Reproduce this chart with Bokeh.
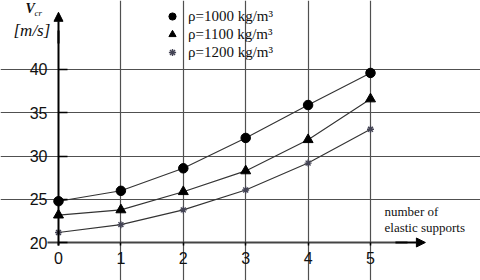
from bokeh.plotting import figure
from bokeh.models import (Range1d, LinearAxis, FixedTicker, Grid, Arrow, NormalHead,
                          Label, Legend, LegendItem)
from bokeh.embed import file_html
from bokeh.resources import INLINE

# ---- data ----
supports = [0, 1, 2, 3, 4, 5]
v_1000 = [24.8, 26.0, 28.6, 32.1, 35.9, 39.6]
v_1100 = [23.2, 23.8, 25.9, 28.3, 31.9, 36.6]
v_1200 = [21.2, 22.1, 23.8, 26.1, 29.2, 33.1]
series_labels = ["\u03c1=1000 kg/m\u00b3", "\u03c1=1100 kg/m\u00b3", "\u03c1=1200 kg/m\u00b3"]
x_ticks = [0, 1, 2, 3, 4, 5]
y_ticks = [20, 25, 30, 35, 40]
y_grid = [25, 30, 35, 40]
x_grid = [1, 2, 3, 4, 5]

W, H = 480, 280
p = figure(width=W, height=H, output_backend="svg", toolbar_location=None,
           x_axis_location=None, y_axis_location=None, min_border=0,
           x_range=Range1d(-0.9295, 6.763), y_range=Range1d(15.654, 47.96),
           outline_line_color=None, background_fill_color="white")
p.grid.visible = False

gcol = "#505050"
xg = Grid(dimension=0, ticker=FixedTicker(ticks=x_grid), bounds=(20, 40),
          grid_line_color=gcol, grid_line_width=1.2)
yg = Grid(dimension=1, ticker=FixedTicker(ticks=y_grid), bounds=(0, 5),
          grid_line_color=gcol, grid_line_width=1.2)
p.add_layout(xg)
p.add_layout(yg)

# axes
yax = LinearAxis(fixed_location=0, ticker=FixedTicker(ticks=y_ticks), bounds=(19.7, 44.5),
                 axis_line_width=2, axis_line_color="black",
                 major_tick_in=9, major_tick_out=0, minor_tick_out=0, minor_tick_in=0,
                 major_tick_line_color="black", major_tick_line_width=1.5,
                 major_label_text_font="Liberation Sans", major_label_text_font_size="16px",
                 major_label_text_color="#111111", major_label_standoff=11)
p.add_layout(yax, "left")
xax = LinearAxis(fixed_location=20, ticker=FixedTicker(ticks=x_ticks), bounds=(-0.18, 5.6),
                 axis_line_width=2, axis_line_color="#444444",
                 major_tick_in=0, major_tick_out=3, minor_tick_out=0, minor_tick_in=0,
                 major_tick_line_color="black", major_tick_line_width=1.5,
                 major_label_text_font="Liberation Sans", major_label_text_font_size="16px",
                 major_label_text_color="#111111", major_label_standoff=6)
p.add_layout(xax, "below")

# axis arrows
p.add_layout(Arrow(end=NormalHead(size=9, fill_color="black", line_color="black"),
                   x_start=0, y_start=43.0, x_end=0, y_end=46.6,
                   line_color="black", line_width=2))
p.add_layout(Arrow(end=NormalHead(size=9, fill_color="black", line_color="black"),
                   x_start=5.4, y_start=20.04, x_end=5.88, y_end=20.04,
                   line_color="black", line_width=2))

# curves
lcol = "#333333"
p.line(supports, v_1000, line_color=lcol, line_width=1.1)
p.line(supports, v_1100, line_color=lcol, line_width=1.1)
p.line(supports, v_1200, line_color=lcol, line_width=1.1)
r1 = p.scatter(supports, v_1000, marker="circle", size=9.5, fill_color="black", line_color="black")
r2 = p.scatter(supports, v_1100, marker="triangle", size=10, fill_color="black", line_color="black")
r3 = p.scatter(supports, v_1200, marker="asterisk", size=7, line_color="#444455", line_width=1.4)

legend = Legend(items=[LegendItem(label=series_labels[0], renderers=[r1]),
                       LegendItem(label=series_labels[1], renderers=[r2]),
                       LegendItem(label=series_labels[2], renderers=[r3])],
                location=(163, 219), orientation="vertical",
                padding=0, margin=0, spacing=0,
                glyph_width=18, glyph_height=18, label_height=18, label_standoff=7,
                label_text_font="Liberation Serif", label_text_font_size="15px",
                label_text_color="#111111",
                background_fill_alpha=0, border_line_color=None)
p.add_layout(legend, "center")

# axis titles
font = "Liberation Serif"
p.add_layout(Label(x=25, y=H - 15, x_units="screen", y_units="screen", text="V",
                   text_font=font, text_font_size="14px", text_font_style="bold italic",
                   text_color="#111111"))
p.add_layout(Label(x=34, y=H - 17, x_units="screen", y_units="screen", text="cr",
                   text_font=font, text_font_size="9px", text_font_style="italic",
                   text_color="#111111"))
p.add_layout(Label(x=13, y=H - 39, x_units="screen", y_units="screen", text="[m/s]",
                   text_font=font, text_font_size="17px", text_font_style="italic",
                   text_color="#111111"))
p.add_layout(Label(x=384, y=H - 218, x_units="screen", y_units="screen", text="number of",
                   text_font=font, text_font_size="13px", text_color="#111111"))
p.add_layout(Label(x=384, y=H - 234, x_units="screen", y_units="screen", text="elastic supports",
                   text_font=font, text_font_size="13px", text_color="#111111"))

open("out.html", "w").write(file_html(p, INLINE))
